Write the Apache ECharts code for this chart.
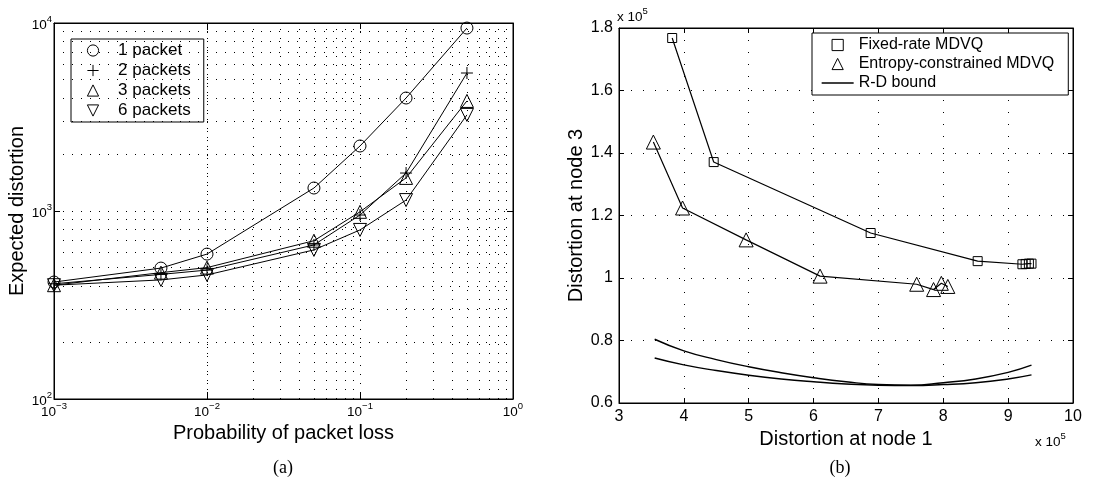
<!DOCTYPE html>
<html>
<head>
<meta charset="utf-8">
<script src="https://cdn.jsdelivr.net/npm/echarts@6/dist/echarts.min.js"></script>
<style>
    html, body { margin: 0; padding: 0; background: #fff; }
    #chart { width: 1108px; height: 477px; }
</style>
</head>
<body>
<div id="chart"></div>
<script>
// (a) expected distortion against probability of packet loss
var lossProb = [0.001, 0.005, 0.01, 0.05, 0.1, 0.2, 0.5];
var dist1Packet = [419, 497, 590, 1325, 2217, 3990, 9400];
var dist2Packets = [410, 460, 485, 660, 952, 1592, 5420];
var dist3Packets = [403, 470, 500, 695, 990, 1500, 3850];
var dist6Packets = [403, 430, 457, 621, 793, 1143, 3245];

// minor grid lines of the log axes (2..9 x 10^k)
var minorTicksX = [0.002, 0.003, 0.004, 0.005, 0.006, 0.007, 0.008, 0.009,
                   0.02, 0.03, 0.04, 0.05, 0.06, 0.07, 0.08, 0.09,
                   0.2, 0.3, 0.4, 0.5, 0.6, 0.7, 0.8, 0.9];
var minorTicksY = [200, 300, 400, 500, 600, 700, 800, 900,
                   2000, 3000, 4000, 5000, 6000, 7000, 8000, 9000];

// (b) distortion at node 3 against distortion at node 1, both x 10^5
var fixedNode1 = [3.82, 4.46, 6.88, 8.53, 9.22, 9.27, 9.32, 9.36];
var fixedNode3 = [1.768, 1.371, 1.144, 1.054, 1.044, 1.045, 1.046, 1.046];
var entropyNode1 = [3.53, 3.98, 4.96, 6.10, 7.59, 7.85, 7.97, 8.07];
var entropyNode3 = [1.435, 1.224, 1.122, 1.006, 0.980, 0.963, 0.983, 0.973];
var boundNode1 = [3.55, 4.0, 4.5, 5.0, 5.5, 6.0, 6.5, 7.0, 7.5, 8.0, 8.5, 9.0, 9.36];
var boundUpper = [0.804, 0.767, 0.739, 0.716, 0.697, 0.681, 0.668, 0.659, 0.657, 0.665, 0.677, 0.698, 0.721];
var boundLower = [0.744, 0.722, 0.704, 0.689, 0.677, 0.668, 0.661, 0.657, 0.656, 0.659, 0.665, 0.677, 0.690];

var FONT = 'Liberation Sans, Arial, Helvetica, sans-serif';
var PLUS = 'path://M5,0L5,10M0,5L10,5';
var TRI_UP = 'path://M5,0L10,8.66L0,8.66Z';
var TRI_DOWN = 'path://M0,0L10,0L5,8.66Z';

function zip(xs, ys) {
    return xs.map(function (x, i) { return [x, ys[i]]; });
}

function powLabel(v) {
    var e = Math.round(Math.log10(v));
    return '{b|10}{s|' + String(e).replace('-', '\u2212') + '}';
}

var powRich = {
    b: { fontSize: 13.5, fontFamily: FONT, color: '#000', lineHeight: 18, verticalAlign: 'bottom' },
    s: { fontSize: 9.5, fontFamily: FONT, color: '#000', lineHeight: 10, verticalAlign: 'top' }
};

var hollow = { color: 'transparent', borderColor: '#000', borderWidth: 1 };
var blackLine = { color: '#000', width: 1 };

function markerSeries(name, data, symbol, size, xi, yi, extra) {
    var s = {
        name: name,
        type: 'line',
        xAxisIndex: xi,
        yAxisIndex: yi,
        data: data,
        symbol: symbol,
        symbolSize: size,
        showAllSymbol: true,
        itemStyle: hollow,
        lineStyle: blackLine,
        z: 3
    };
    if (extra) { for (var k in extra) s[k] = extra[k]; }
    return s;
}

var minorGrid = {
    silent: true,
    symbol: 'none',
    label: { show: false },
    lineStyle: { color: '#000', width: 1, type: [1, 8] },
    data: minorTicksX.map(function (v) { return { xAxis: v }; })
        .concat(minorTicksY.map(function (v) { return { yAxis: v }; }))
};

function legendItem(name) {
    return { name: name, itemStyle: hollow, lineStyle: { width: 0, color: 'transparent' } };
}

var chart = echarts.init(document.getElementById('chart'));
var option = {
    animation: false,
    backgroundColor: '#fff',
    grid: [
        { left: 54, top: 23, width: 459, height: 376, show: true, borderColor: '#000', borderWidth: 1, backgroundColor: 'transparent' },
        { left: 619, top: 28, width: 454, height: 375, show: true, borderColor: '#000', borderWidth: 1, backgroundColor: 'transparent' }
    ],
    xAxis: [
        {
            gridIndex: 0, type: 'log', logBase: 10, min: 0.001, max: 1,
            name: 'Probability of packet loss', nameLocation: 'middle', nameGap: 22,
            nameTextStyle: { fontSize: 20, fontFamily: FONT, color: '#000' },
            axisLine: { lineStyle: { color: '#000' } },
            axisTick: { inside: true, length: 6, lineStyle: { color: '#000' } },
            axisLabel: { fontSize: 13.5, formatter: powLabel, rich: powRich, margin: 2 },
            splitLine: { show: true, lineStyle: { color: '#000', width: 1, type: [1, 8] } }
        },
        {
            gridIndex: 0, type: 'log', logBase: 10, min: 0.001, max: 1, position: 'top',
            axisLine: { lineStyle: { color: '#000' } },
            axisTick: { inside: true, length: 6, lineStyle: { color: '#000' } },
            axisLabel: { show: false }, splitLine: { show: false }
        },
        {
            gridIndex: 1, type: 'value', min: 3, max: 10, interval: 1,
            name: 'Distortion at node 1', nameLocation: 'middle', nameGap: 25,
            nameTextStyle: { fontSize: 20, fontFamily: FONT, color: '#000' },
            axisLine: { lineStyle: { color: '#000' } },
            axisTick: { inside: true, length: 5, lineStyle: { color: '#000' } },
            axisLabel: { fontSize: 16, fontFamily: FONT, color: '#000', margin: 6 },
            splitLine: { show: true, lineStyle: { color: '#000', width: 1, type: [1, 11] } }
        },
        {
            gridIndex: 1, type: 'value', min: 3, max: 10, interval: 1, position: 'top',
            axisLine: { lineStyle: { color: '#000' } },
            axisTick: { inside: true, length: 5, lineStyle: { color: '#000' } },
            axisLabel: { show: false }, splitLine: { show: false }
        }
    ],
    yAxis: [
        {
            gridIndex: 0, type: 'log', logBase: 10, min: 100, max: 10000,
            name: 'Expected distortion', nameLocation: 'middle', nameGap: 27,
            nameTextStyle: { fontSize: 20, fontFamily: FONT, color: '#000' },
            axisLine: { lineStyle: { color: '#000' } },
            axisTick: { inside: true, length: 6, lineStyle: { color: '#000' } },
            axisLabel: { fontSize: 13.5, formatter: powLabel, rich: powRich, margin: 2 },
            splitLine: { show: true, lineStyle: { color: '#000', width: 1, type: [1, 8] } }
        },
        {
            gridIndex: 0, type: 'log', logBase: 10, min: 100, max: 10000, position: 'right',
            axisLine: { lineStyle: { color: '#000' } },
            axisTick: { inside: true, length: 6, lineStyle: { color: '#000' } },
            axisLabel: { show: false }, splitLine: { show: false }
        },
        {
            gridIndex: 1, type: 'value', min: 0.6, max: 1.8, interval: 0.2,
            name: 'Distortion at node 3', nameLocation: 'middle', nameGap: 27,
            nameTextStyle: { fontSize: 20, fontFamily: FONT, color: '#000' },
            axisLine: { lineStyle: { color: '#000' } },
            axisTick: { inside: true, length: 5, lineStyle: { color: '#000' } },
            axisLabel: {
                fontSize: 16, fontFamily: FONT, color: '#000', margin: 6,
                formatter: function (v) { return String(Math.round(v * 10) / 10); }
            },
            splitLine: { show: true, lineStyle: { color: '#000', width: 1, type: [1, 11] } }
        },
        {
            gridIndex: 1, type: 'value', min: 0.6, max: 1.8, interval: 0.2, position: 'right',
            axisLine: { lineStyle: { color: '#000' } },
            axisTick: { inside: true, length: 5, lineStyle: { color: '#000' } },
            axisLabel: { show: false }, splitLine: { show: false }
        }
    ],
    legend: [
        {
            left: 71, top: 39, orient: 'vertical', selectedMode: false,
            backgroundColor: '#fff', borderColor: '#000', borderWidth: 1, borderRadius: 0,
            padding: [3, 13, 3, 2], itemGap: 3, itemWidth: 40, itemHeight: 14,
            textStyle: { fontSize: 17, lineHeight: 17, fontFamily: FONT, color: '#000' },
            data: ['1 packet', '2 packets', '3 packets', '6 packets'].map(legendItem)
        },
        {
            left: 812, top: 33, orient: 'vertical', selectedMode: false,
            backgroundColor: '#fff', borderColor: '#000', borderWidth: 1, borderRadius: 0,
            padding: [4, 14, 4, 9], itemGap: 3, itemWidth: 32, itemHeight: 14,
            textStyle: { fontSize: 16, lineHeight: 16, fontFamily: FONT, color: '#000' },
            data: [
                legendItem('Fixed-rate MDVQ'),
                legendItem('Entropy-constrained MDVQ'),
                { name: 'R-D bound', itemStyle: { opacity: 0 }, lineStyle: { color: '#000', width: 1.3 } }
            ]
        }
    ],
    graphic: [
        { type: 'text', x: 283, y: 468, style: { text: '(a)', fill: '#000', font: '18px "Liberation Serif", "Times New Roman", serif', align: 'center', verticalAlign: 'middle' } },
        { type: 'text', x: 840, y: 468, style: { text: '(b)', fill: '#000', font: '18px "Liberation Serif", "Times New Roman", serif', align: 'center', verticalAlign: 'middle' } },
        { type: 'text', x: 617, y: 15, style: { text: '{b|x 10}{s|5}', rich: powRich, fill: '#000', align: 'left', verticalAlign: 'middle' } },
        { type: 'text', x: 1035, y: 440, style: { text: '{b|x 10}{s|5}', rich: powRich, fill: '#000', align: 'left', verticalAlign: 'middle' } }
    ],
    series: [
        markerSeries('1 packet', zip(lossProb, dist1Packet), 'circle', 12, 0, 0, { markLine: minorGrid }),
        markerSeries('2 packets', zip(lossProb, dist2Packets), PLUS, 12, 0, 0),
        markerSeries('3 packets', zip(lossProb, dist3Packets), TRI_UP, 13, 0, 0),
        markerSeries('6 packets', zip(lossProb, dist6Packets), TRI_DOWN, 13, 0, 0),
        markerSeries('Fixed-rate MDVQ', zip(fixedNode1, fixedNode3), 'rect', 9, 2, 2, { lineStyle: { color: '#000', width: 1.2 } }),
        markerSeries('Entropy-constrained MDVQ', zip(entropyNode1, entropyNode3), TRI_UP, 14, 2, 2, { lineStyle: { color: '#000', width: 1.2 } }),
        {
            name: 'R-D bound', type: 'line', xAxisIndex: 2, yAxisIndex: 2,
            data: zip(boundNode1, boundUpper), smooth: true, symbol: 'none',
            lineStyle: { color: '#000', width: 1.4 }, itemStyle: { color: '#000' }
        },
        {
            name: 'R-D bound', type: 'line', xAxisIndex: 2, yAxisIndex: 2,
            data: zip(boundNode1, boundLower), smooth: true, symbol: 'none',
            lineStyle: { color: '#000', width: 1.4 }, itemStyle: { color: '#000' }
        }
    ]
};
chart.setOption(option);

window.addEventListener('resize', function () {
    chart.resize();
});
</script>
</body>
</html>
